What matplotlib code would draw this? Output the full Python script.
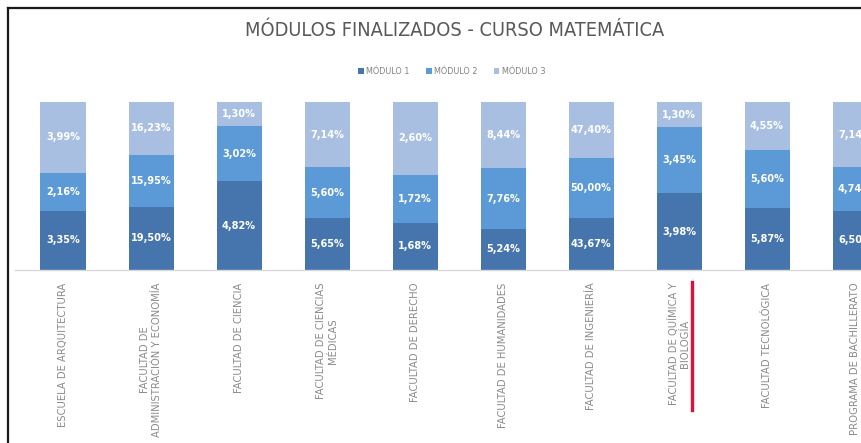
import matplotlib
matplotlib.use('Agg')
import matplotlib.pyplot as plt
from matplotlib import font_manager as fm
from matplotlib.lines import Line2D
import numpy as np

categories = [
    'ESCUELA DE ARQUITECTURA',
    'FACULTAD DE\nADMINISTRACIÓN Y ECONOMÍA',
    'FACULTAD DE CIENCIA',
    'FACULTAD DE CIENCIAS\nMÉDICAS',
    'FACULTAD DE DERECHO',
    'FACULTAD DE HUMANIDADES',
    'FACULTAD DE INGENIERÍA',
    'FACULTAD DE QUÍMICA Y\nBIOLOGÍA',
    'FACULTAD TECNOLÓGICA',
    'PROGRAMA DE BACHILLERATO',
]
modulo1 = [3.35, 19.50, 4.82, 5.65, 1.68, 5.24, 43.67, 3.98, 5.87, 6.50]
modulo2 = [2.16, 15.95, 3.02, 5.60, 1.72, 7.76, 50.00, 3.45, 5.60, 4.74]
modulo3 = [3.99, 16.23, 1.30, 7.14, 2.60, 8.44, 47.40, 1.30, 4.55, 7.14]
series_names = ['MÓDULO 1', 'MÓDULO 2', 'MÓDULO 3']
title = 'MÓDULOS FINALIZADOS - CURSO MATEMÁTICA'

colors = ['#4674ad', '#5b9ad6', '#a8bfe1']

W, H = 861, 443
fig = plt.figure(figsize=(W / 100, H / 100), dpi=100)
fig.patch.set_facecolor('white')

def cond(size, weight='normal'):
    return fm.FontProperties(family='DejaVu Sans', stretch='condensed',
                             size=size, weight=weight)

# axes: bar centres at px 63 + 88*i, baseline y=270, top y=102
x0_px, step = 63, 88
left_px, right_px = 15, 885
ax_left = left_px / W
ax_w = (right_px - left_px) / W
ax_bottom = (H - 270) / H
ax_h = (270 - 102) / H
ax = fig.add_axes([ax_left, ax_bottom, ax_w, ax_h])
ax.set_xlim((left_px - x0_px) / step, (right_px - x0_px) / step)
ax.set_ylim(0, 1)

series = [np.array(modulo1), np.array(modulo2), np.array(modulo3)]
total = series[0] + series[1] + series[2]
x = np.arange(len(categories))
bottom = np.zeros(len(categories))
for vals, col, name in zip(series, colors, series_names):
    frac = vals / total
    ax.bar(x, frac, width=45 / step, bottom=bottom, color=col,
           label=name, linewidth=0)
    for xi, b, f, v in zip(x, bottom, frac, vals):
        ax.text(xi, b + f / 2, f'{v:.2f}%'.replace('.', ','), ha='center',
                va='center', color='white', fontproperties=cond(7.8, 'bold'))
    bottom = bottom + frac

for s in ['top', 'right', 'left']:
    ax.spines[s].set_visible(False)
ax.spines['bottom'].set_color('#d9d9d9')
ax.spines['bottom'].set_linewidth(1)
ax.set_yticks([])
ax.set_xticks(x)
ax.set_xticklabels(categories, rotation=90, ha='center', va='top',
                   multialignment='center', color='#8a8a8a',
                   fontproperties=cond(8))
ax.tick_params(axis='x', length=0, pad=9)

fig.text(455 / W, 1 - 31 / H, title, ha='center', va='center',
         color='#595959', fontproperties=cond(14.3))

leg = fig.legend(loc='center', bbox_to_anchor=(452 / W, 1 - 72 / H), ncol=3,
                 frameon=False, prop=cond(6.5), handlelength=0.6,
                 handleheight=0.6, columnspacing=1.8, handletextpad=0.3)
for t in leg.get_texts():
    t.set_color('#808080')

# frame (left and top edges of the chart area)
fig.add_artist(Line2D([8 / W, 8 / W], [0, 1 - 8 / H], color='#1a1a1a',
                      linewidth=1.6, transform=fig.transFigure))
fig.add_artist(Line2D([8 / W, 1], [1 - 8 / H, 1 - 8 / H], color='#1a1a1a',
                      linewidth=1.6, transform=fig.transFigure))
# red highlight mark
fig.add_artist(Line2D([692 / W, 692 / W], [1 - 282 / H, 1 - 410 / H],
                      color='#e0103a', linewidth=2.4,
                      transform=fig.transFigure))

fig.savefig('out.png', dpi=100, facecolor='white')
